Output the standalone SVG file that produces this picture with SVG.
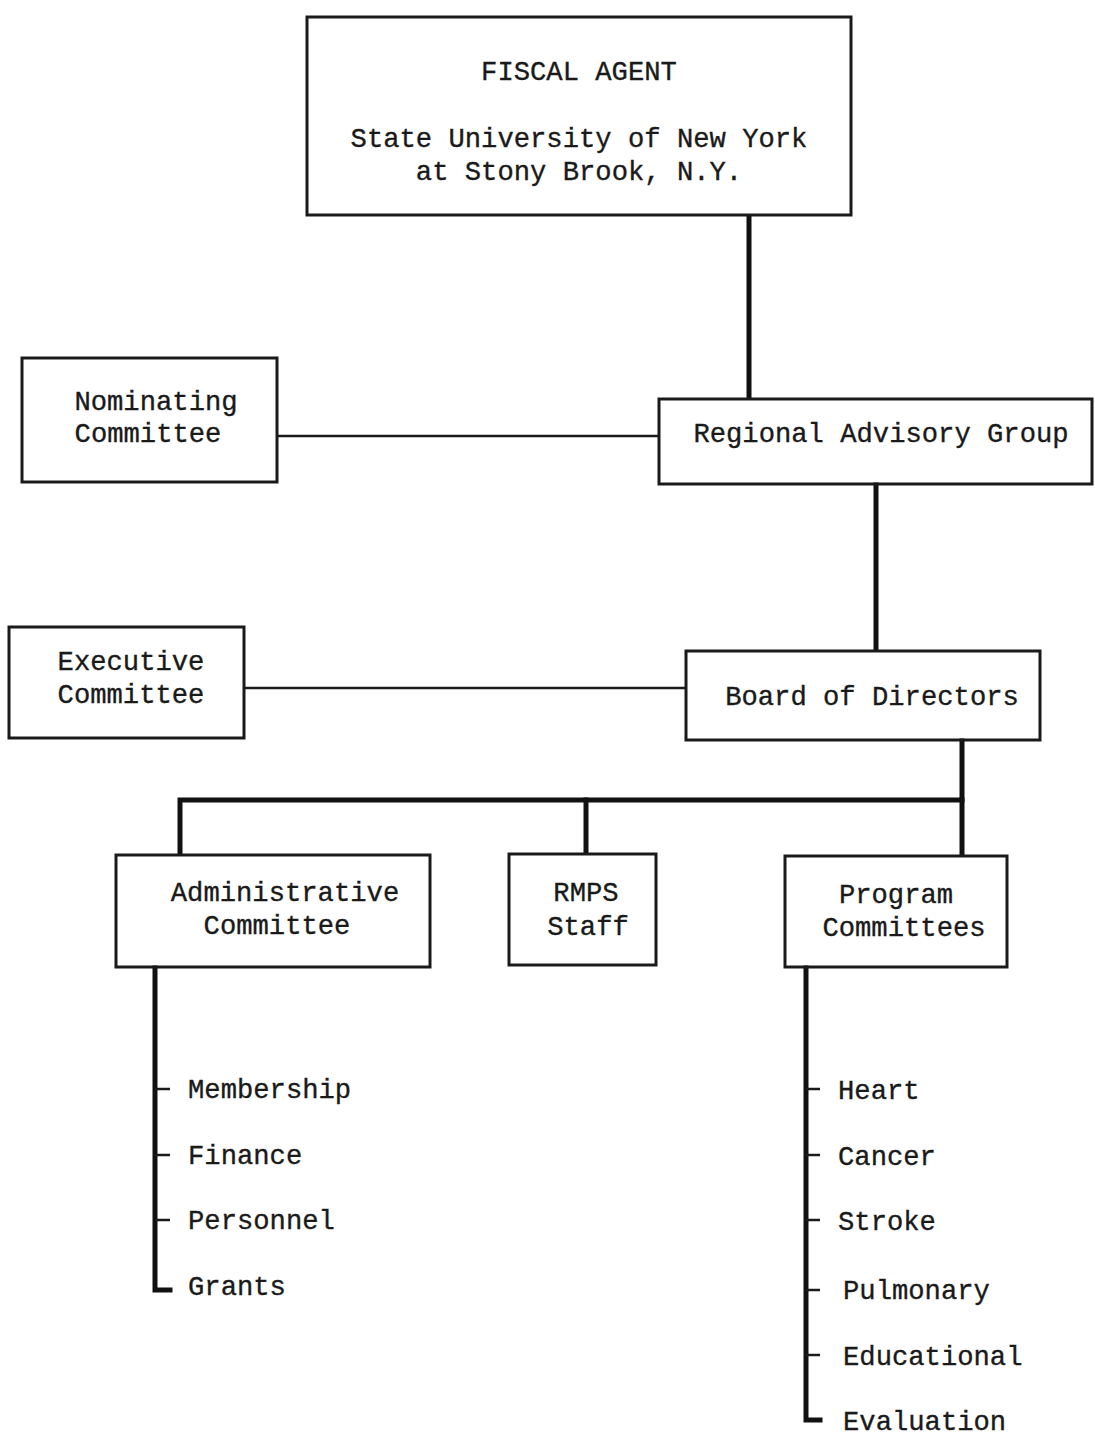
<svg xmlns="http://www.w3.org/2000/svg" width="1095" height="1436" viewBox="0 0 1095 1436">
<style>
.box{fill:none;stroke:#1a1a1a;stroke-width:3}
.thick{fill:none;stroke:#111;stroke-width:5;stroke-linecap:square}
.thin{fill:none;stroke:#1a1a1a;stroke-width:2.5}
text{font-family:"Liberation Mono","DejaVu Sans Mono",monospace;font-size:27.2px;fill:#1a1a1a;stroke:#1a1a1a;stroke-width:0.35}
.c{text-anchor:middle}
</style>
<rect width="1095" height="1436" fill="#ffffff"/>
<g id="connectors">
<line class="thick" x1="749" y1="217" x2="749" y2="397"/>
<line class="thin" x1="277" y1="436" x2="658" y2="436"/>
<line class="thick" x1="876" y1="485" x2="876" y2="649"/>
<line class="thin" x1="244" y1="688" x2="685" y2="688"/>
<polyline class="thick" points="962,741 962,800 180,800 180,853"/>
<line class="thick" x1="586" y1="800" x2="586" y2="852"/>
<line class="thick" x1="962" y1="800" x2="962" y2="853"/>
<polyline class="thick" points="155,968 155,1290 170,1290"/>
<line class="thin" x1="155" y1="1089" x2="170" y2="1089"/>
<line class="thin" x1="155" y1="1155" x2="170" y2="1155"/>
<line class="thin" x1="155" y1="1220" x2="170" y2="1220"/>
<polyline class="thick" points="806,968 806,1420 820,1420"/>
<line class="thin" x1="806" y1="1089" x2="820" y2="1089"/>
<line class="thin" x1="806" y1="1155" x2="820" y2="1155"/>
<line class="thin" x1="806" y1="1220" x2="820" y2="1220"/>
<line class="thin" x1="806" y1="1290" x2="820" y2="1290"/>
<line class="thin" x1="806" y1="1355" x2="820" y2="1355"/>
</g>
<g id="fiscal-agent">
<rect class="box" x="307" y="17" width="544" height="198"/>
<text class="c" x="579" y="80">FISCAL AGENT</text>
<text class="c" x="579" y="147">State University of New York</text>
<text class="c" x="579" y="180">at Stony Brook, N.Y.</text>
</g>
<g id="nominating-committee">
<rect class="box" x="22" y="358" width="255" height="124"/>
<text class="c" x="156" y="410">Nominating</text>
<text class="c" x="148" y="442">Committee</text>
</g>
<g id="regional-advisory-group">
<rect class="box" x="659" y="399" width="433" height="85"/>
<text class="c" x="881" y="442">Regional Advisory Group</text>
</g>
<g id="executive-committee">
<rect class="box" x="9" y="627" width="235" height="111"/>
<text class="c" x="131" y="670">Executive</text>
<text class="c" x="131" y="703">Committee</text>
</g>
<g id="board-of-directors">
<rect class="box" x="686" y="651" width="354" height="89"/>
<text class="c" x="872" y="705">Board of Directors</text>
</g>
<g id="administrative-committee">
<rect class="box" x="116" y="855" width="314" height="112"/>
<text class="c" x="285" y="901">Administrative</text>
<text class="c" x="277" y="934">Committee</text>
</g>
<g id="rmps-staff">
<rect class="box" x="509" y="854" width="147" height="111"/>
<text class="c" x="586" y="901">RMPS</text>
<text class="c" x="588" y="935">Staff</text>
</g>
<g id="program-committees">
<rect class="box" x="785" y="856" width="222" height="111"/>
<text class="c" x="896" y="903">Program</text>
<text class="c" x="904" y="936">Committees</text>
</g>
<g id="admin-subcommittees">
<text x="188" y="1098">Membership</text>
<text x="188" y="1164">Finance</text>
<text x="188" y="1229">Personnel</text>
<text x="188" y="1295">Grants</text>
</g>
<g id="program-subcommittees">
<text x="838" y="1099">Heart</text>
<text x="838" y="1165">Cancer</text>
<text x="838" y="1230">Stroke</text>
<text x="843" y="1299">Pulmonary</text>
<text x="843" y="1365">Educational</text>
<text x="843" y="1430">Evaluation</text>
</g>
</svg>
